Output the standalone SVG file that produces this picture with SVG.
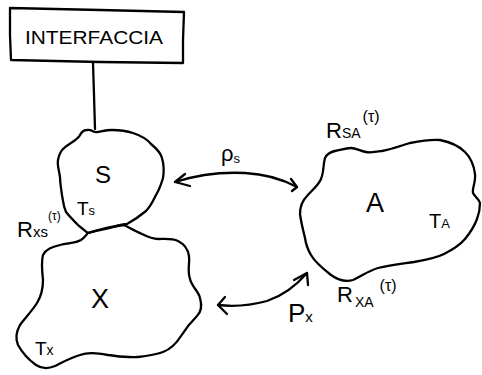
<svg xmlns="http://www.w3.org/2000/svg" width="482" height="375" viewBox="0 0 482 375">
<style>
.ln{fill:none;stroke:#000;stroke-width:2.3;stroke-linecap:round;stroke-linejoin:round}
.t{font-family:"Liberation Sans","DejaVu Sans",sans-serif;fill:#000}
</style>
<rect width="482" height="375" fill="#fff"/>
<g id="interfaccia">
<path class="ln" d="M10,8 L100,10 L184,12 L183,40 L183,63 L100,62 L11,60 L10,35 Z"/>
<text class="t" x="25" y="44" font-size="19" textLength="138" lengthAdjust="spacingAndGlyphs">INTERFACCIA</text>
</g>
<g id="S">
<path class="ln" d="M87,130 C92,129 93,133 97,132 C103,131 107,130 112,130 C120,130 127,131 133,133 C142,136 147,139 151,144 C157,149 161,153 162,158 C164,165 164,172 163,178 C161,185 159,190 156,195 C153,201 151,206 146,211 C140,216 134,220 127,224 C120,225 115,226 110,228 C102,230 95,231 88,233 C84,230 82,228 79,226 C74,221 70,217 66,212 C63,205 63,200 62,195 C61,188 60,182 60,177 C59,170 57,165 58,160 C59,155 60,152 63,149 C67,145 71,143 74,141 C78,138 79,137 80,135 C82,131 84,130 87,130 Z"/>
<text class="t" x="95" y="183" font-size="24">S</text>
<text class="t" x="77" y="215" font-size="19">T<tspan font-size="13">s</tspan></text>
</g>
<g id="X">
<path class="ln" d="M88,233 C95,231 98,230 102,229 C110,227 117,226 124,225 C130,228 135,231 142,234 C148,237 152,239 158,239 C165,239 172,238 178,241 C184,244 188,249 189,256 C190,264 187,270 190,279 C192,287 199,292 200,298 C202,305 202,311 197,316 C191,322 186,328 181,336 C176,344 171,349 163,352 C155,355 147,356 138,357 C127,358 117,356 108,355 C96,353 88,352 80,355 C70,358 63,362 55,366 C48,369 42,369 36,365 C29,360 23,354 18,345 C15,338 16,332 20,325 C25,318 32,311 37,303 C42,295 43,288 43,280 C42,271 41,262 43,255 C46,249 52,247 60,245 C68,243 76,243 81,240 C84,238 86,235 88,233 Z"/>
<text class="t" x="91" y="308" font-size="27">X</text>
<text class="t" x="35" y="355" font-size="19">T<tspan font-size="14">x</tspan></text>
</g>
<g id="A">
<path class="ln" d="M325,158 C327,154 330,152 335,151 C341,150 345,148 351,148 C356,148 360,151 366,152 C371,153 376,152 382,151 C392,149 400,146 410,143 C420,141 430,139 440,140 C450,142 458,145 465,152 C471,158 474,166 475,174 C476,182 472,188 473,193 C475,197 479,199 480,203 C480,210 479,214 477,219 C474,227 470,233 465,239 C459,246 452,250 444,254 C436,258 426,260 414,262 C400,264 390,265 378,268 C368,271 362,276 353,280 C346,282 338,280 331,275 C322,268 315,262 311,255 C308,250 306,245 305,238 C303,230 301,222 300,214 C300,206 303,200 307,196 C312,190 318,186 321,179 C324,172 323,165 325,158 Z"/>
<text class="t" x="366" y="212" font-size="27">A</text>
<text class="t" x="429" y="228" font-size="20">T<tspan font-size="13">A</tspan></text>
</g>
<g id="connectors">
<path class="ln" d="M93,63 L94,95 L95,129"/>
<path class="ln" d="M175,182 C200,174 225,172 245,173 C265,174 282,179 297,187"/>
<path class="ln" d="M185,174 L175,182 L190,186"/>
<path class="ln" d="M291,179 L297,187 L292,191"/>
<path class="ln" d="M218,305 C235,307 252,305 267,301 C282,296 295,287 307,273"/>
<path class="ln" d="M225,297 L218,305 L227,314"/>
<path class="ln" d="M294,280 L307,273 L308,285"/>
</g>
<g id="labels">
<text class="t" x="221" y="161" font-size="22">ρ<tspan font-size="13" dy="2">s</tspan></text>
<text class="t" x="288" y="322" font-size="26">P<tspan font-size="15">x</tspan></text>
<text class="t" x="17" y="237" font-size="22">R<tspan font-size="15">xs</tspan><tspan font-size="12" dy="-17">(τ)</tspan></text>
<text class="t" x="326" y="138" font-size="22">R<tspan font-size="14">SA</tspan><tspan font-size="16" dy="-16" dx="2">(τ)</tspan></text>
<text class="t" x="337" y="302" font-size="22">R<tspan font-size="14" dy="5" dx="2">XA</tspan><tspan font-size="16" dy="-16" dx="6">(τ)</tspan></text>
</g>
</svg>
